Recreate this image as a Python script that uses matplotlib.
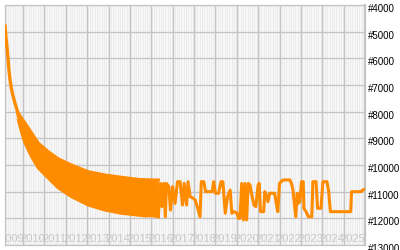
import numpy as np
import matplotlib.pyplot as plt

# rank history (x in years, y is rank, lower is better)
early_years = [2009.155, 2009.20, 2009.27, 2009.33, 2009.39, 2009.45, 2009.53, 2009.62, 2009.72, 2009.78]
early_ranks = [4790, 5200, 5760, 6360, 6810, 7110, 7410, 7680, 7940, 8180]

# dense daily swings 2009-2016, kept as top and bottom of the band
band_years = [2009.78, 2009.94, 2010.09, 2010.40, 2010.71, 2011.18, 2011.65, 2012.27,
              2013.05, 2013.83, 2014.61, 2015.39, 2015.70, 2016.02, 2016.33]
band_top = [8050, 8250, 8425, 8800, 9175, 9500, 9770, 10000,
            10250, 10375, 10460, 10540, 10550, 10560, 10560]
band_bottom = [8310, 8800, 9175, 9690, 10110, 10490, 10860, 11190,
               11500, 11690, 11810, 11880, 11910, 11900, 11940]

late_years = [2016.33, 2016.42, 2016.50, 2016.58, 2016.66, 2016.71, 2016.82, 2016.90, 2017.0, 2017.11,
              2017.23, 2017.35, 2017.46, 2017.54, 2017.65, 2017.72, 2017.82, 2017.97, 2018.05, 2018.15,
              2018.28, 2018.34, 2018.46, 2018.54, 2018.85, 2018.92, 2019.0, 2019.15, 2019.26, 2019.35,
              2019.46, 2019.57, 2019.69, 2019.77, 2019.85, 2020.0, 2020.08, 2020.15, 2020.23, 2020.31,
              2020.38, 2020.46, 2020.54, 2020.62, 2020.69, 2020.80, 2020.89, 2021.0, 2021.05, 2021.11,
              2021.26, 2021.31, 2021.38, 2021.46, 2021.54, 2021.77, 2021.85, 2021.92, 2022.0, 2022.08,
              2022.16, 2022.48, 2022.56, 2022.63, 2022.71, 2022.76, 2022.83, 2022.87, 2022.95, 2023.03,
              2023.11, 2023.14, 2023.24, 2023.35, 2023.51, 2023.56, 2023.71, 2023.78, 2023.94, 2024.03,
              2024.22, 2024.30, 2024.38, 2025.33, 2025.37, 2025.81, 2025.89, 2026.0]
late_ranks = [11940, 10690, 11560, 10690, 11940, 10690, 10810, 11690, 10810, 11440,
              10625, 10625, 11500, 10690, 11500, 10625, 11190, 11250, 11310, 11560,
              11940, 10625, 10625, 11000, 11000, 10625, 11060, 11060, 10625, 10625,
              11810, 11190, 10940, 11810, 11750, 11790, 12000, 12000, 10690, 12060,
              10690, 12060, 10690, 10750, 11060, 11500, 11560, 10750, 10690, 11750,
              11750, 11000, 11125, 11375, 11060, 11060, 11440, 11750, 10690, 10625,
              10560, 10560, 10690, 10940, 11560, 11940, 11060, 11440, 11375, 10625,
              10625, 11625, 11750, 11940, 11940, 10625, 10625, 11625, 11625, 10625,
              10625, 11000, 11750, 11750, 11000, 11000, 10940, 10910]

year_labels = list(range(2009, 2026))
rank_ticks = list(range(4000, 13001, 1000))

orange = '#ff8c00'
grid_col = '#c4c4c4'

fig = plt.figure(figsize=(4, 2.5), dpi=100)
ax = fig.add_axes([5 / 400, 5 / 250, 360 / 400, 240 / 250])
ax.set_facecolor('#ececec')
ax.set_xlim(2009.155, 2026.0)
ax.set_ylim(13000, 4000)

# thin white month stripes on the grey background
for y in range(2009, 2026):
    for m in range(1, 12):
        ax.axvline(y + m / 12, color='white', lw=0.45, zorder=0.5)

# year and rank grid
for y in year_labels[1:] + [2026]:
    ax.axvline(y, color=grid_col, lw=0.9, zorder=1)
for r in rank_ticks:
    ax.axhline(r, color=grid_col, lw=0.9, zorder=1)

# the rank line
ax.fill_between(band_years, band_top, band_bottom, color=orange, lw=0, zorder=3)
ax.plot(band_years, band_top, color=orange, lw=2.2, zorder=3)
ax.plot(band_years, band_bottom, color=orange, lw=2.2, zorder=3)
ax.plot(early_years, early_ranks, color=orange, lw=2.4, zorder=3, solid_joinstyle='miter')
ax.plot(late_years, late_ranks, color=orange, lw=2.2, zorder=3)

# year labels sit inside the plot at the bottom, clipped to it
for y in year_labels:
    ax.text(y + 0.45, 12880, str(y), color='#c8c8c8', fontsize=8, family='Liberation Sans',
            ha='center', va='baseline', zorder=2, clip_on=True)

# rank labels on the right
for r in rank_ticks:
    ax.text(1.008, r + 260, '#%d' % r, color='black', fontsize=7, family='Liberation Sans',
            ha='left', va='baseline', transform=ax.get_yaxis_transform(), clip_on=False)

ax.set_xticks([])
ax.set_yticks([])
for side in ['left', 'top', 'bottom']:
    ax.spines[side].set_color(grid_col)
    ax.spines[side].set_linewidth(0.9)
ax.spines['right'].set_color(grid_col)
ax.spines['right'].set_linewidth(1.6)

fig.savefig('out.png', dpi=100)
plt.close()
